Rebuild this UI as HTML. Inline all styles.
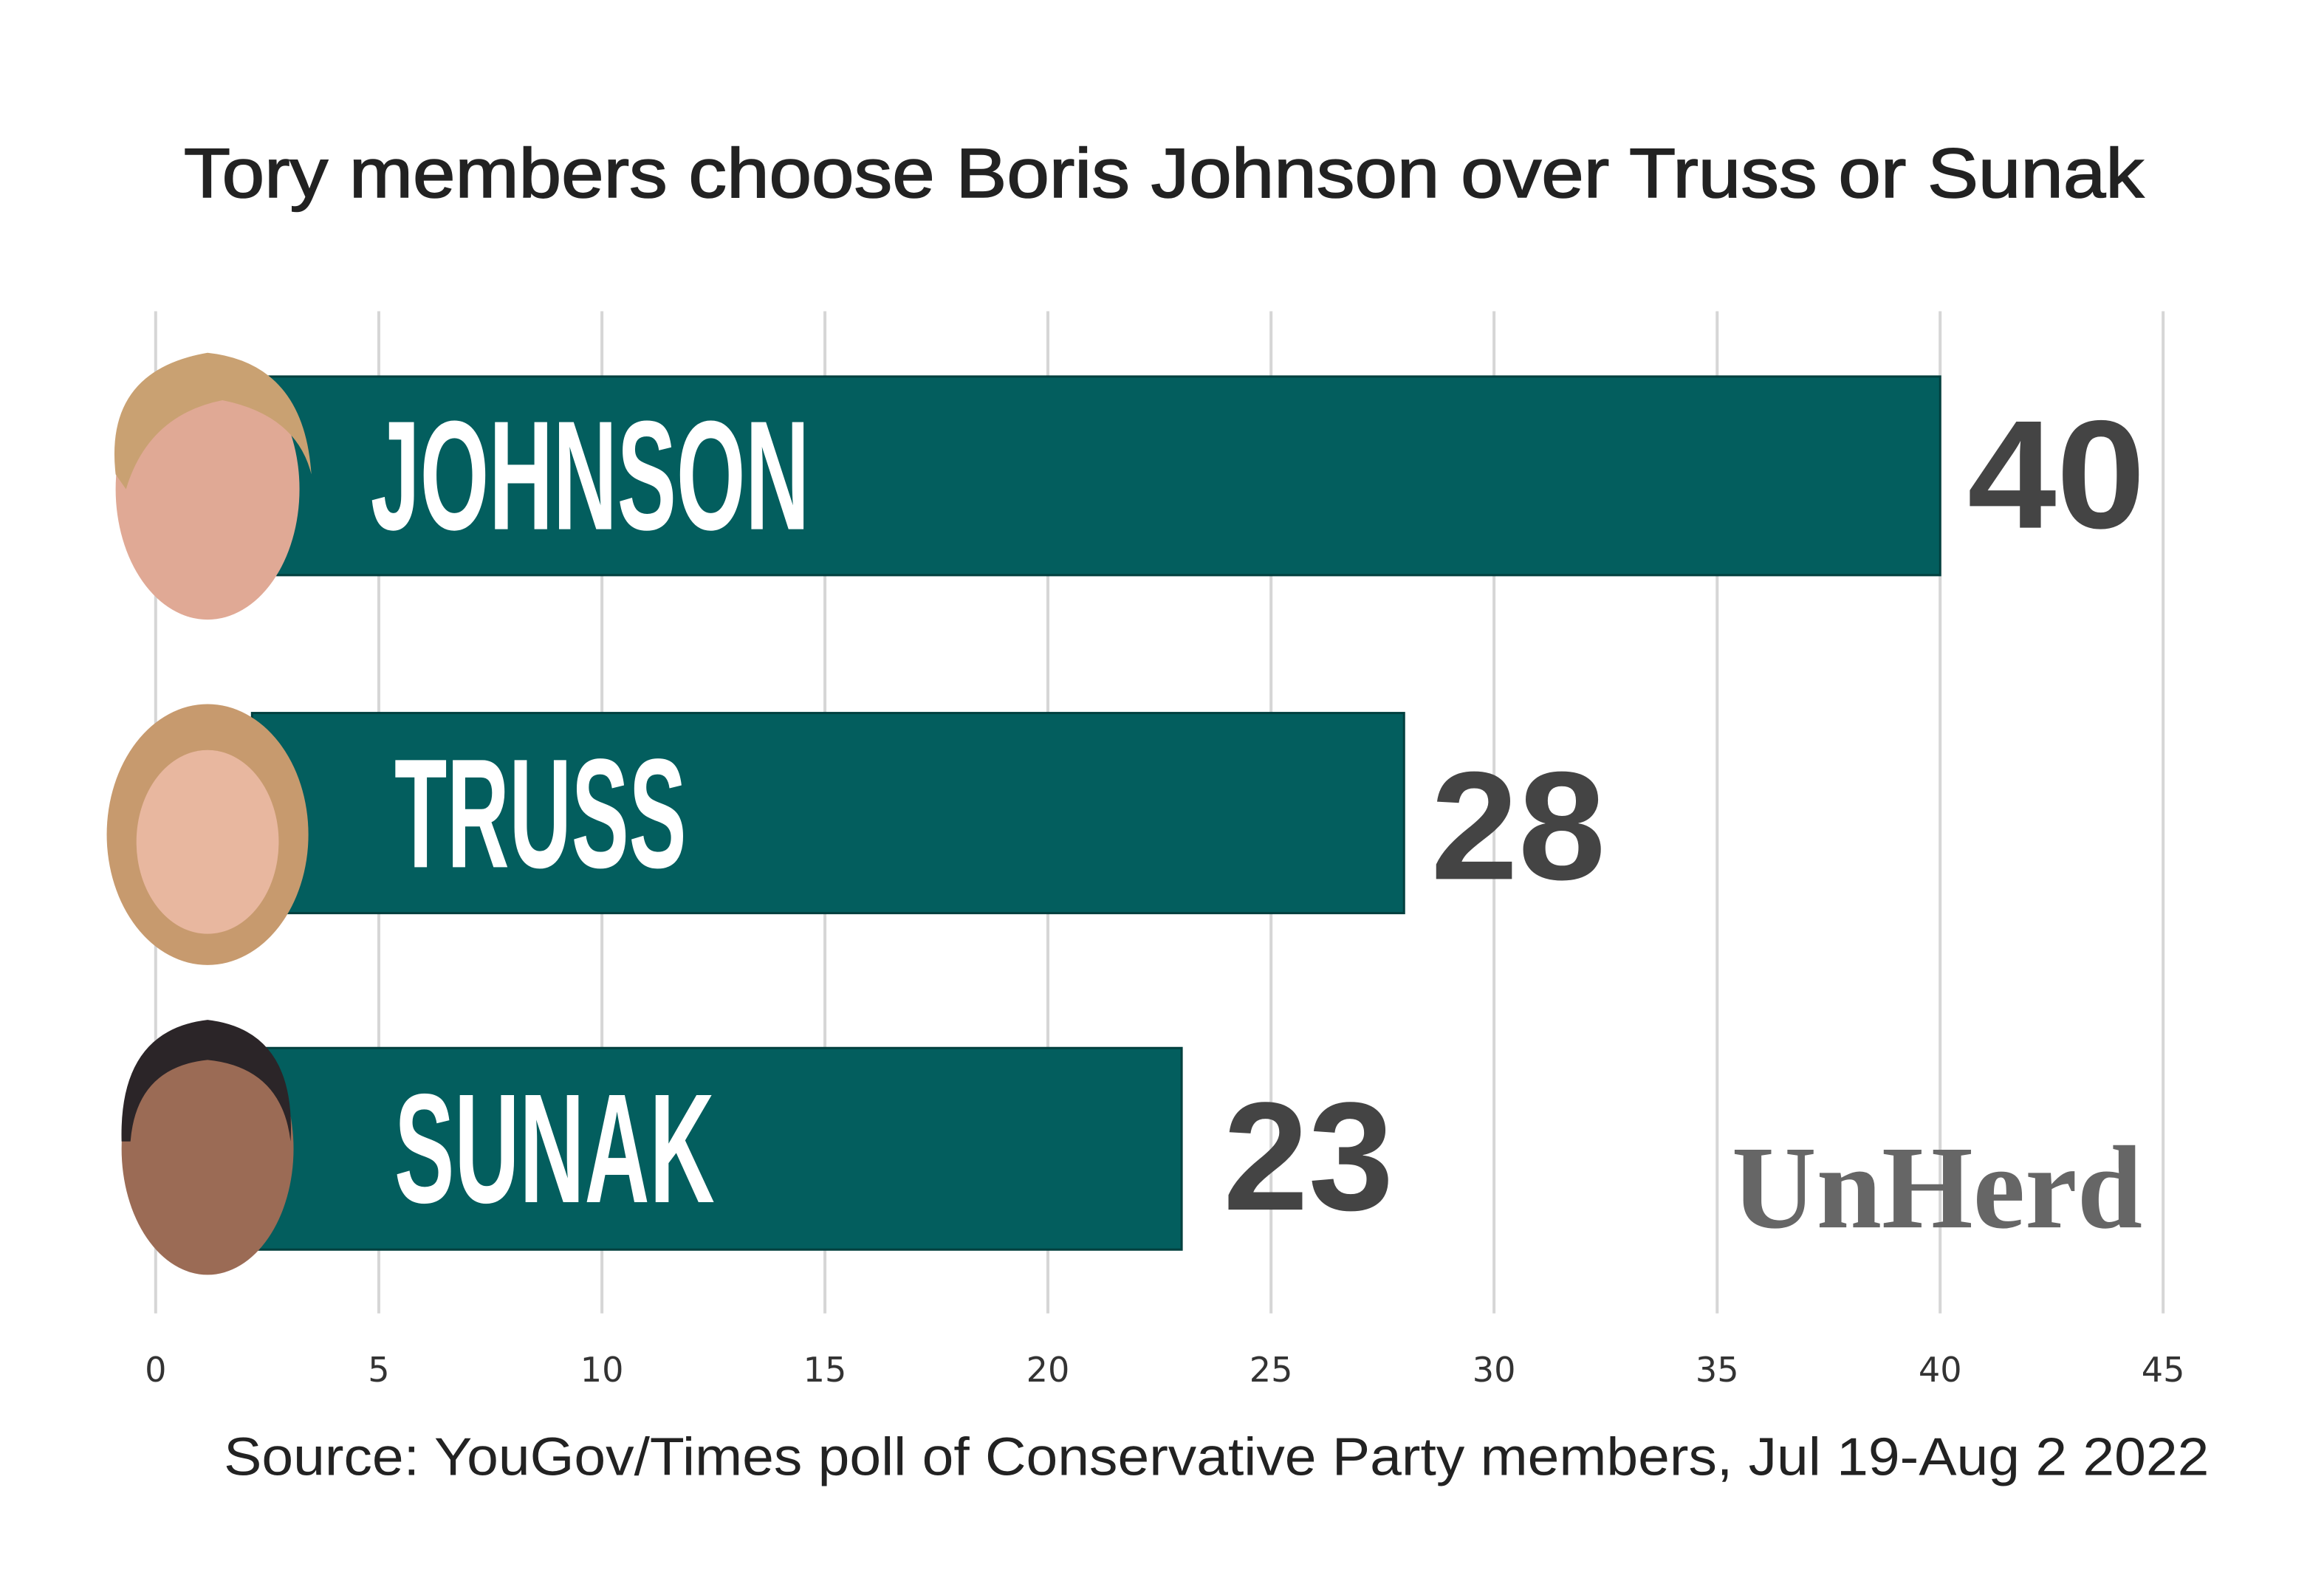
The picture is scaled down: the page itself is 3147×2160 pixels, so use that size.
<!DOCTYPE html>
<html><head><style>html,body{margin:0;padding:0;background:#fff}svg{display:block}</style></head>
<body>
<svg width="3147" height="2160" viewBox="0 0 1567.5 1076" preserveAspectRatio="none" xmlns="http://www.w3.org/2000/svg">
<rect width="1567.5" height="1076" fill="#fff"/>
<g stroke="#d6d6d6" stroke-width="2">
<line x1="105" y1="210" x2="105" y2="886"/><line x1="255.5" y1="210" x2="255.5" y2="886"/>
<line x1="406" y1="210" x2="406" y2="886"/><line x1="556.4" y1="210" x2="556.4" y2="886"/>
<line x1="706.8" y1="210" x2="706.8" y2="886"/><line x1="857.3" y1="210" x2="857.3" y2="886"/>
<line x1="1007.7" y1="210" x2="1007.7" y2="886"/><line x1="1158.2" y1="210" x2="1158.2" y2="886"/>
<line x1="1308.6" y1="210" x2="1308.6" y2="886"/><line x1="1459" y1="210" x2="1459" y2="886"/>
</g>
<text x="785" y="133" text-anchor="middle" font-family="Liberation Sans, sans-serif" font-size="47" fill="#222" stroke="#222" stroke-width="0.8" textLength="1322" lengthAdjust="spacingAndGlyphs">Tory members choose Boris Johnson over Truss or Sunak</text>
<g fill="#035e5e" stroke="#02403f" stroke-width="1.5">
<rect x="170" y="254" width="1138.6" height="134"/>
<rect x="170" y="481" width="777" height="135"/>
<rect x="170" y="707" width="627" height="136"/>
</g>
<g>
<ellipse cx="140" cy="330" rx="62" ry="88" fill="#e0a995"/>
<path d="M78 320 Q70 250 140 238 Q205 245 210 320 Q200 280 150 270 Q100 280 85 330Z" fill="#c9a172"/>
<ellipse cx="140" cy="563" rx="68" ry="88" fill="#c79a6e"/>
<ellipse cx="140" cy="568" rx="48" ry="62" fill="#e8b79f"/>
<ellipse cx="140" cy="775" rx="58" ry="85" fill="#9b6b55"/>
<path d="M82 770 Q80 695 140 688 Q200 695 196 770 Q190 720 140 715 Q92 720 88 770Z" fill="#2b2528"/>
</g>
<g font-family="Liberation Sans Narrow, Liberation Sans, sans-serif" font-weight="bold" fill="#fff" font-size="105">
<text x="250" y="357" textLength="296" lengthAdjust="spacingAndGlyphs">JOHNSON</text>
<text x="266" y="585" textLength="197" lengthAdjust="spacingAndGlyphs">TRUSS</text>
<text x="266" y="811" textLength="216" lengthAdjust="spacingAndGlyphs">SUNAK</text>
</g>
<g font-family="Liberation Sans, sans-serif" font-weight="bold" fill="#444" font-size="104">
<text x="1327" y="356" textLength="120" lengthAdjust="spacingAndGlyphs">40</text>
<text x="965" y="593" textLength="118" lengthAdjust="spacingAndGlyphs">28</text>
<text x="825" y="816" textLength="115" lengthAdjust="spacingAndGlyphs">23</text>
</g>
<text x="1168" y="828" font-family="Liberation Serif, serif" font-weight="bold" font-size="80" fill="#666" textLength="277" lengthAdjust="spacingAndGlyphs">UnHerd</text>
<g font-family="DejaVu Sans, sans-serif" font-size="23" fill="#333" text-anchor="middle">
<text x="105" y="932">0</text><text x="255.5" y="932">5</text><text x="406" y="932">10</text>
<text x="556.4" y="932">15</text><text x="706.8" y="932">20</text><text x="857.3" y="932">25</text>
<text x="1007.7" y="932">30</text><text x="1158.2" y="932">35</text><text x="1308.6" y="932">40</text>
<text x="1459" y="932">45</text>
</g>
<text x="151" y="995" font-family="Liberation Sans, sans-serif" font-size="36" fill="#222" textLength="1339" lengthAdjust="spacingAndGlyphs">Source: YouGov/Times poll of  Conservative Party members, Jul 19-Aug 2 2022</text>
</svg>
</body></html>
